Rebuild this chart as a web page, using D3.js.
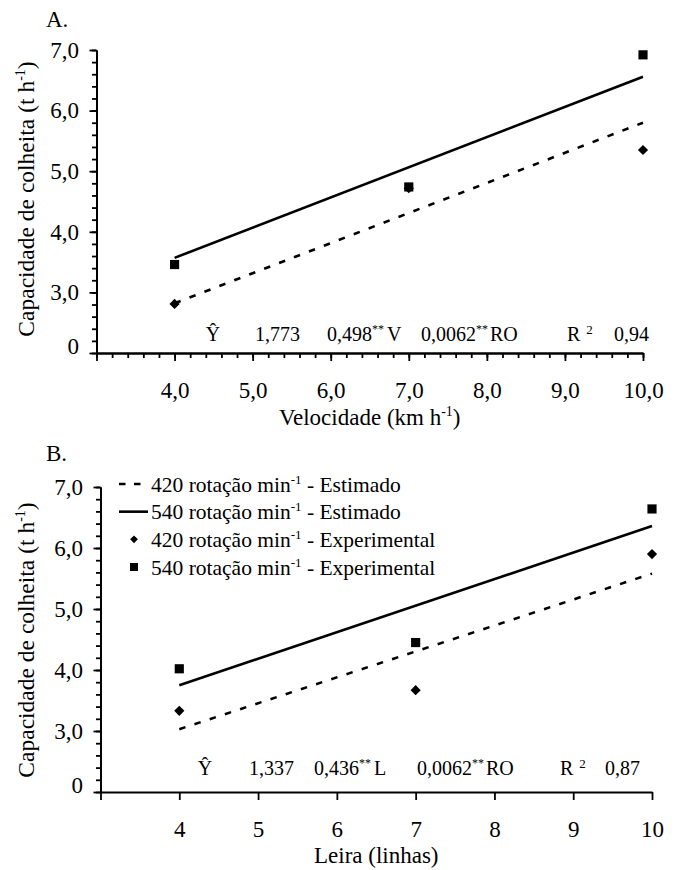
<!DOCTYPE html>
<html><head><meta charset="utf-8">
<script src="https://cdn.jsdelivr.net/npm/d3@7"></script>
<style>
body{margin:0;background:#fff}
svg{display:block;background:#fff}
text{font-family:"Liberation Serif","Times New Roman",serif;fill:#000}
</style>
</head><body>
<svg id="c" width="677" height="870"></svg>
<script>
// ---------- data ----------
const velocidade = [4, 7, 10];
const leira = [4, 7, 10];
const estX = [4, 10];
const a420Exp = [2.81, 4.72, 5.35];
const a540Exp = [3.46, 4.74, 6.92];
const a420Est = [2.82, 5.80];
const a540Est = [3.57, 6.56];
const b420Exp = [3.33, 3.67, 5.90];
const b540Exp = [4.02, 4.45, 6.64];
const b420Est = [3.03, 5.58];
const b540Est = [3.75, 6.36];
const yTickValues = [2, 3, 4, 5, 6, 7];
const yTickLabels = ["0", "3,0", "4,0", "5,0", "6,0", "7,0"];
const xTickValues = [3, 4, 5, 6, 7, 8, 9, 10];
const xTickLabelsA = ["", "4,0", "5,0", "6,0", "7,0", "8,0", "9,0", "10,0"];
const xTickLabelsB = ["", "4", "5", "6", "7", "8", "9", "10"];
const legendRot = ["420", "540", "420", "540"];
const legendKind = ["Estimado", "Estimado", "Experimental", "Experimental"];
const legendType = ["dash", "solid", "diamond", "square"];

// ---------- drawing ----------
const svg = d3.select("#c");
const FONT = 23;

function styleAxis(sel, fs) {
  sel.attr("font-family", null).attr("font-size", fs);
  sel.select(".domain").attr("stroke", "#000").attr("stroke-width", 2);
  sel.selectAll(".tick line").attr("stroke", "#000").attr("stroke-width", 1.8);
  sel.selectAll(".tick text").attr("fill", "#000");
}

function panel(cfg) {
  const x = d3.scaleLinear().domain([3, 10]).range(cfg.xr);
  const y = d3.scaleLinear().domain([2, 7]).range(cfg.yr);
  const g = svg.append("g");
  const x0 = cfg.xr[0], y0 = cfg.yr[0];

  // y minor ticks
  g.append("g").attr("transform", `translate(${x0},0)`)
    .call(d3.axisLeft(y).tickValues(d3.range(2, 7.001, 0.2)).tickSize(4.5).tickSizeOuter(0).tickFormat(""))
    .call(s => styleAxis(s, FONT));
  // y major ticks
  const ya = g.append("g").attr("transform", `translate(${x0},0)`)
    .call(d3.axisLeft(y).tickValues(yTickValues).tickSize(7).tickSizeOuter(0).tickPadding(10.5)
      .tickFormat((d, i) => yTickLabels[i]))
    .call(s => styleAxis(s, FONT));
  ya.selectAll(".tick text").filter(d => d === 2).attr("dy", "0.0em");

  // x minor ticks (panel A only)
  if (cfg.minorX) {
    g.append("g").attr("transform", `translate(0,${y0})`)
      .call(d3.axisBottom(x).tickValues(d3.range(3, 10.001, 0.2)).tickSize(5).tickSizeOuter(0).tickFormat(""))
      .call(s => styleAxis(s, FONT));
  }
  g.append("g").attr("transform", `translate(0,${y0})`)
    .call(d3.axisBottom(x).tickValues(xTickValues).tickSize(8).tickSizeOuter(0).tickPadding(20.5)
      .tickFormat((d, i) => cfg.xLabels[i]))
    .call(s => styleAxis(s, FONT));

  // estimated lines
  const line = d3.line().x(d => x(d[0])).y(d => y(d[1]));
  g.append("path").datum(estX.map((v, i) => [v, cfg.est540[i]]))
    .attr("d", line).attr("fill", "none").attr("stroke", "#000").attr("stroke-width", 2.6);
  g.append("path").datum(estX.map((v, i) => [v, cfg.est420[i]]))
    .attr("d", line).attr("fill", "none").attr("stroke", "#000").attr("stroke-width", 2.6)
    .attr("stroke-dasharray", "6.5,9.5");

  // experimental points
  const diamond = d3.symbol().type(d3.symbolSquare).size(52);
  const square = d3.symbol().type(d3.symbolSquare).size(84);
  g.selectAll(".dia").data(cfg.xs.map((v, i) => [v, cfg.exp420[i]])).join("path")
    .attr("d", diamond).attr("transform", d => `translate(${x(d[0])},${y(d[1])}) rotate(45)`).attr("fill", "#000");
  g.selectAll(".sq").data(cfg.xs.map((v, i) => [v, cfg.exp540[i]])).join("path")
    .attr("d", square).attr("transform", d => `translate(${x(d[0])},${y(d[1])})`).attr("fill", "#000");

  // panel letter
  g.append("text").attr("x", 46).attr("y", cfg.letterY).attr("font-size", FONT).text(cfg.letter);

  // y title
  const yt = g.append("text").attr("transform", `translate(34,${cfg.yTitleY}) rotate(-90)`)
    .attr("text-anchor", "middle").attr("font-size", 23.5);
  yt.append("tspan").text("Capacidade de colheita (t h");
  yt.append("tspan").attr("font-size", 14).attr("dy", -9).text("-1");
  yt.append("tspan").attr("dy", 9).text(")");

  // x title
  const xt = g.append("text").attr("x", (cfg.xr[0] + cfg.xr[1]) / 2).attr("y", cfg.xTitleY)
    .attr("text-anchor", "middle").attr("font-size", FONT);
  cfg.xTitle(xt);

  // equation
  const eqY = cfg.eqY, fs = 20;
  const eq = g.append("g").attr("font-size", fs);
  eq.append("text").attr("x", cfg.eq.yhat).attr("y", eqY).attr("text-anchor", "middle").text("Ŷ");
  eq.append("text").attr("x", cfg.eq.c0).attr("y", eqY).text(cfg.eq.t0);
  let t = eq.append("text").attr("x", cfg.eq.c1).attr("y", eqY);
  t.append("tspan").text(cfg.eq.t1);
  t.append("tspan").attr("font-size", 12).attr("dy", -8).text("**");
  t.append("tspan").attr("dy", 8).attr("dx", 3).text(cfg.eq.v);
  t = eq.append("text").attr("x", cfg.eq.c2).attr("y", eqY);
  t.append("tspan").text("0,0062");
  t.append("tspan").attr("font-size", 12).attr("dy", -8).text("**");
  t.append("tspan").attr("dy", 8).attr("dx", 2).text("RO");
  t = eq.append("text").attr("x", cfg.eq.r).attr("y", eqY);
  t.append("tspan").text("R");
  t.append("tspan").attr("font-size", 13).attr("dy", -7).attr("dx", 6).text("2");
  eq.append("text").attr("x", cfg.eq.c3).attr("y", eqY).text(cfg.eq.t3);

  return {x, y, g};
}

panel({
  xr: [96.5, 643], yr: [353, 50], minorX: true, xLabels: xTickLabelsA,
  xs: velocidade, exp420: a420Exp, exp540: a540Exp, est420: a420Est, est540: a540Est,
  letter: "A.", letterY: 27, yTitleY: 199, xTitleY: 425,
  xTitle: t => { t.append("tspan").text("Velocidade (km h"); t.append("tspan").attr("font-size", 14).attr("dy", -9).text("-1"); t.append("tspan").attr("dy", 9).text(")"); },
  eqY: 341,
  eq: {yhat: 213, c0: 255, t0: "1,773", c1: 327, t1: "0,498", v: "V", c2: 421, r: 567, c3: 614, t3: "0,94"}
});

panel({
  xr: [100.5, 652], yr: [792, 487], minorX: false, xLabels: xTickLabelsB,
  xs: leira, exp420: b420Exp, exp540: b540Exp, est420: b420Est, est540: b540Est,
  letter: "B.", letterY: 461, yTitleY: 640, xTitleY: 863,
  xTitle: t => { t.text("Leira (linhas)"); },
  eqY: 775,
  eq: {yhat: 205, c0: 249, t0: "1,337", c1: 314, t1: "0,436", v: "L", c2: 417, r: 560, c3: 605, t3: "0,87"}
});

// legend (panel B)
const lg = svg.append("g");
const rowY = d3.scalePoint().domain(d3.range(4)).range([484, 567]);
legendType.forEach((tp, i) => {
  const cy = rowY(i);
  if (tp === "dash") {
    lg.append("line").attr("x1", 119).attr("x2", 141).attr("y1", cy).attr("y2", cy)
      .attr("stroke", "#000").attr("stroke-width", 2.6).attr("stroke-dasharray", "6.5,8.5");
  } else if (tp === "solid") {
    lg.append("line").attr("x1", 119).attr("x2", 148).attr("y1", cy).attr("y2", cy)
      .attr("stroke", "#000").attr("stroke-width", 2.6);
  } else if (tp === "diamond") {
    lg.append("path").attr("d", d3.symbol().type(d3.symbolSquare).size(30)())
      .attr("transform", `translate(134,${cy}) rotate(45)`).attr("fill", "#000");
  } else {
    lg.append("path").attr("d", d3.symbol().type(d3.symbolSquare).size(64)())
      .attr("transform", `translate(134,${cy})`).attr("fill", "#000");
  }
  const t = lg.append("text").attr("x", 151).attr("y", cy + 7.5).attr("font-size", 21.5);
  t.append("tspan").text(legendRot[i] + " rotação min");
  t.append("tspan").attr("font-size", 13).attr("dy", -8).text("-1");
  t.append("tspan").attr("dy", 8).text(" - " + legendKind[i]);
});
</script>
</body></html>
